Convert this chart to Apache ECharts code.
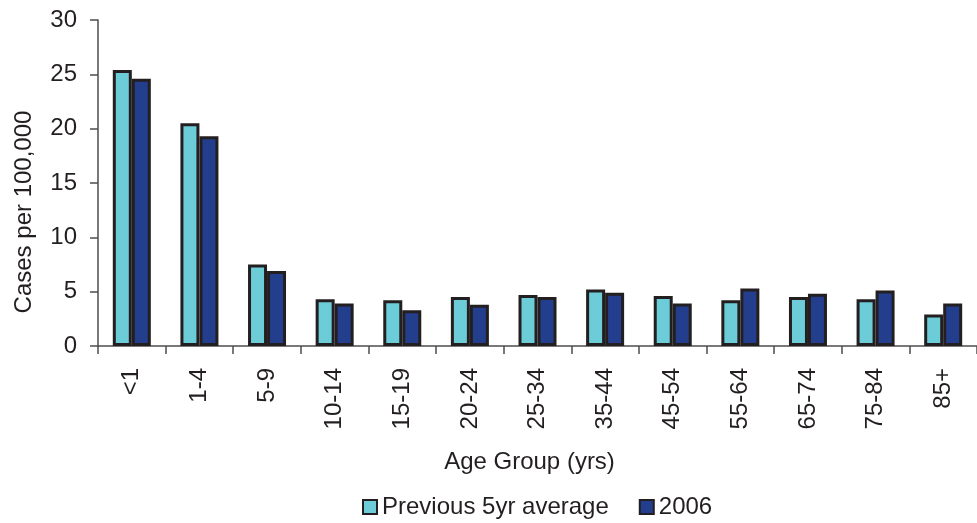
<!DOCTYPE html>
<html>
<head>
<meta charset="utf-8">
<script src="https://cdn.jsdelivr.net/npm/echarts@6/dist/echarts.min.js"></script>
<style>
  html, body { margin: 0; padding: 0; background: #fff; }
  #chart { width: 977px; height: 523px; }
</style>
</head>
<body>
<div id="chart"></div>
<script>
// Age groups along the x axis
const ageGroups = ['<1', '1-4', '5-9', '10-14', '15-19', '20-24', '25-34', '35-44', '45-54', '55-64', '65-74', '75-84', '85+'];
// Rates per 100,000 population
const previous5yrAverage = [25.4, 20.5, 7.5, 4.3, 4.2, 4.5, 4.7, 5.2, 4.6, 4.2, 4.5, 4.3, 2.9];
const year2006 = [24.6, 19.3, 6.9, 3.9, 3.3, 3.8, 4.5, 4.9, 3.9, 5.3, 4.8, 5.1, 3.9];
// Y axis scale
const yMin = 0, yMax = 30, yStep = 5;

const textColor = '#231f20';
const axisColor = '#4d4d4d';
const font = 'Liberation Sans';

const chart = echarts.init(document.getElementById('chart'));
chart.setOption({
  animation: false,
  textStyle: { fontFamily: font, color: textColor },
  // the last category runs slightly past the right edge of the canvas
  grid: { left: 98, right: -9.6, top: 20, bottom: 177, containLabel: false },
  legend: {
    top: 490,
    left: 357,
    itemWidth: 14,
    itemHeight: 14,
    itemGap: 30,
    icon: 'rect',
    itemStyle: { borderColor: '#231f20', borderWidth: 2 },
    textStyle: { fontFamily: font, fontSize: 24, color: textColor },
    data: ['Previous 5yr average', '2006']
  },
  xAxis: {
    type: 'category',
    data: ageGroups,
    name: 'Age Group (yrs)',
    nameLocation: 'middle',
    nameGap: 104,
    nameTextStyle: { fontFamily: font, fontSize: 24, color: textColor, padding: [0, 16, 0, 0] },
    axisLine: { lineStyle: { color: axisColor, width: 1.5 } },
    axisTick: { show: true, alignWithLabel: false, length: 8, lineStyle: { color: axisColor, width: 1.5 } },
    axisLabel: { rotate: 90, margin: 22, fontSize: 24, color: textColor, fontFamily: font }
  },
  yAxis: {
    type: 'value',
    min: yMin,
    max: yMax,
    interval: yStep,
    name: 'Cases per 100,000',
    nameLocation: 'middle',
    nameGap: 62,
    nameTextStyle: { fontFamily: font, fontSize: 24, color: textColor, padding: [0, 58, 0, 0] },
    splitLine: { show: false },
    axisLine: { show: true, lineStyle: { color: axisColor, width: 1.5 } },
    axisTick: { show: true, length: 8, lineStyle: { color: axisColor, width: 1.5 } },
    axisLabel: { margin: 21, fontSize: 24, color: textColor, fontFamily: font }
  },
  series: [
    {
      name: 'Previous 5yr average',
      type: 'bar',
      data: previous5yrAverage,
      barWidth: 19,
      barGap: '0%',
      itemStyle: { color: '#6ccdd9', borderColor: '#231f20', borderWidth: 3 }
    },
    {
      name: '2006',
      type: 'bar',
      data: year2006,
      barWidth: 19,
      barGap: '0%',
      itemStyle: { color: '#243e8e', borderColor: '#231f20', borderWidth: 3 }
    }
  ]
});
</script>
</body>
</html>
